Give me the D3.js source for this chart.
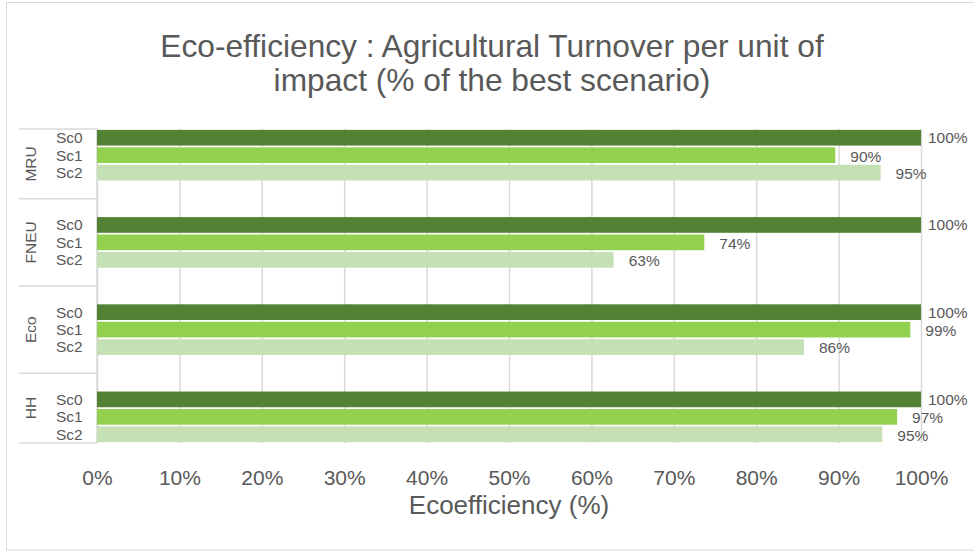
<!DOCTYPE html>
<html>
<head>
<meta charset="utf-8">
<script src="https://cdn.jsdelivr.net/npm/d3@7/dist/d3.min.js"></script>
<style>
  html, body { margin: 0; padding: 0; background: #ffffff; }
  svg { display: block; font-family: "Liberation Sans", Arial, sans-serif; }
</style>
</head>
<body>
<svg id="chart" width="974" height="552"></svg>
<script>
// Impact categories (outer level) and scenarios (inner level)
const groups = ["MRU", "FNEU", "Eco", "HH"];
const scenarios = ["Sc0", "Sc1", "Sc2"];

// Eco-efficiency per scenario, % of the best scenario
const sc0Values = [100, 100, 100, 100];
const sc1Values = [89.6, 73.7, 98.7, 97.1];
const sc2Values = [95.1, 62.7, 85.8, 95.3];

const tickValues = [0, 10, 20, 30, 40, 50, 60, 70, 80, 90, 100];

const seriesColors = { Sc0: "#548235", Sc1: "#92d050", Sc2: "#c5e0b4" };
const textColor = "#595959";
const lineColor = "#d9d9d9";

const rows = [];
groups.forEach((g, i) => {
  rows.push({ group: g, scenario: "Sc0", value: sc0Values[i] });
  rows.push({ group: g, scenario: "Sc1", value: sc1Values[i] });
  rows.push({ group: g, scenario: "Sc2", value: sc2Values[i] });
});

const svg = d3.select("#chart");

const plot = { left: 97, right: 921, top: 129, bottom: 443 };
const catLeft = 19;

// Chart frame
svg.append("rect")
  .attr("x", 6.5).attr("y", 2.5)
  .attr("width", 990).attr("height", 547.5)
  .attr("fill", "#ffffff")
  .attr("stroke", lineColor).attr("stroke-width", 1);

// Title
const title = svg.append("text")
  .attr("text-anchor", "middle")
  .attr("fill", textColor)
  .style("font-size", "31.7px");
title.append("tspan").attr("x", 492).attr("y", 57)
  .text("Eco-efficiency : Agricultural Turnover per unit of");
title.append("tspan").attr("x", 492).attr("y", 91)
  .text("impact (% of the best scenario)");

// Scales
const x = d3.scaleLinear().domain([0, 100]).range([plot.left, plot.right]);

const yGroup = d3.scaleBand()
  .domain(groups)
  .range([plot.top, plot.bottom])
  .paddingInner(0.4)
  .paddingOuter(0);

const yScen = d3.scaleBand()
  .domain(scenarios)
  .range([0, yGroup.bandwidth()])
  .paddingInner(0.1)
  .paddingOuter(0.05);

// Vertical gridlines
svg.append("g")
  .attr("transform", `translate(0,${plot.bottom})`)
  .call(d3.axisBottom(x).tickValues(tickValues)
    .tickSize(-(plot.bottom - plot.top)).tickFormat(""))
  .call(g => g.select(".domain").remove())
  .call(g => g.selectAll("line")
    .attr("stroke", lineColor).attr("stroke-width", 1.5));

// Tick labels
svg.append("g")
  .attr("transform", `translate(0,${plot.bottom})`)
  .call(d3.axisBottom(x).tickValues(tickValues)
    .tickSize(0).tickPadding(27).tickFormat(d => d + "%"))
  .call(g => g.select(".domain").remove())
  .call(g => g.selectAll("text")
    .attr("fill", textColor)
    .style("font-size", "21px")
    .style("font-family", "\"Liberation Sans\", Arial, sans-serif"));

// Axis title
svg.append("text")
  .attr("x", (plot.left + plot.right) / 2)
  .attr("y", 514)
  .attr("text-anchor", "middle")
  .attr("fill", textColor)
  .style("font-size", "26px")
  .text("Ecoefficiency (%)");

// Category axis: separators between groups
const step = yGroup.step();
const gap = step - yGroup.bandwidth();
const separators = [plot.top];
groups.forEach((g, i) => {
  if (i < groups.length - 1) separators.push(yGroup(g) + yGroup.bandwidth() + gap / 2);
});
separators.push(plot.bottom);

const catAxis = svg.append("g");
catAxis.selectAll("line.sep")
  .data(separators)
  .join("line")
  .attr("class", "sep")
  .attr("x1", catLeft).attr("x2", plot.left)
  .attr("y1", d => d).attr("y2", d => d)
  .attr("stroke", lineColor).attr("stroke-width", 1.5);

catAxis.append("line")
  .attr("x1", plot.left).attr("x2", plot.left)
  .attr("y1", plot.top).attr("y2", plot.bottom)
  .attr("stroke", lineColor).attr("stroke-width", 1.5);

// Group labels (rotated), centred between separators
catAxis.selectAll("text.group")
  .data(groups)
  .join("text")
  .attr("class", "group")
  .attr("transform", (d, i) => {
    const cy = (separators[i] + separators[i + 1]) / 2;
    return `translate(31,${cy}) rotate(-90)`;
  })
  .attr("text-anchor", "middle")
  .attr("dy", "0.35em")
  .attr("fill", textColor)
  .style("font-size", "15.5px")
  .text(d => d);

// Scenario labels
catAxis.selectAll("text.scen")
  .data(rows)
  .join("text")
  .attr("class", "scen")
  .attr("x", 56)
  .attr("y", d => yGroup(d.group) + yScen(d.scenario) + yScen.bandwidth() / 2)
  .attr("dy", "0.35em")
  .attr("fill", textColor)
  .style("font-size", "15.5px")
  .text(d => d.scenario);

// Bars
svg.append("g")
  .selectAll("rect")
  .data(rows)
  .join("rect")
  .attr("x", x(0))
  .attr("y", d => yGroup(d.group) + yScen(d.scenario))
  .attr("width", d => x(d.value) - x(0))
  .attr("height", yScen.bandwidth())
  .attr("fill", d => seriesColors[d.scenario]);

// Value labels
const labelGap = { Sc0: 7, Sc1: 15, Sc2: 15 };
svg.append("g")
  .selectAll("text")
  .data(rows)
  .join("text")
  .attr("x", d => x(d.value) + labelGap[d.scenario])
  .attr("y", d => yGroup(d.group) + yScen(d.scenario) + yScen.bandwidth() / 2 + (d.scenario === "Sc0" ? 0 : 1))
  .attr("dy", "0.35em")
  .attr("fill", textColor)
  .style("font-size", "15.5px")
  .text(d => Math.round(d.value) + "%");
</script>
</body>
</html>
